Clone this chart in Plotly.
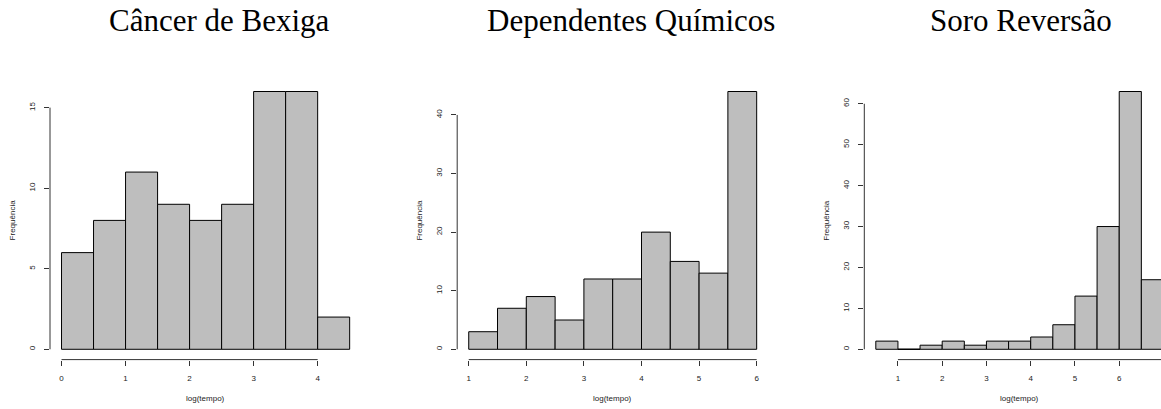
import plotly.graph_objects as go

# ---------------- data ----------------
titles = ["Câncer de Bexiga", "Dependentes Químicos", "Soro Reversão"]

bexiga_edges = [0.0, 0.5, 1.0, 1.5, 2.0, 2.5, 3.0, 3.5, 4.0, 4.5]
bexiga_counts = [6, 8, 11, 9, 8, 9, 16, 16, 2]
bexiga_xticks = [0, 1, 2, 3, 4]
bexiga_yticks = [0, 5, 10, 15]

quimicos_edges = [1.0, 1.5, 2.0, 2.5, 3.0, 3.5, 4.0, 4.5, 5.0, 5.5, 6.0]
quimicos_counts = [3, 7, 9, 5, 12, 12, 20, 15, 13, 44]
quimicos_xticks = [1, 2, 3, 4, 5, 6]
quimicos_yticks = [0, 10, 20, 30, 40]

soro_edges = [0.5, 1.0, 1.5, 2.0, 2.5, 3.0, 3.5, 4.0, 4.5, 5.0, 5.5, 6.0, 6.5, 7.0]
soro_counts = [2, 0, 1, 2, 1, 2, 2, 3, 6, 13, 30, 63, 17]
soro_xticks = [1, 2, 3, 4, 5, 6, 7]
soro_yticks = [0, 10, 20, 30, 40, 50, 60]

xlabel = "log(tempo)"
ylabel = "Frequência"

panels = [
    dict(edges=bexiga_edges, counts=bexiga_counts, xt=bexiga_xticks, yt=bexiga_yticks,
         dom=[50 / 1161, 361.2 / 1161], xcut=None, tx=219),
    dict(edges=quimicos_edges, counts=quimicos_counts, xt=quimicos_xticks, yt=quimicos_yticks,
         dom=[457.2 / 1161, 768.2 / 1161], xcut=None, tx=631),
    dict(edges=soro_edges, counts=soro_counts, xt=soro_xticks, yt=soro_yticks,
         dom=[864.3 / 1161, 1.0], xcut=6.944, tx=1021),
]

W, H = 1161, 409
ydom = [(H - 359.6) / H, (H - 81.2) / H]
tick_font = dict(family="Liberation Sans, Arial, sans-serif", size=8, color="#222")
lab_font = dict(family="Liberation Sans, Arial, sans-serif", size=8, color="#222")

fig = go.Figure()
shapes = []
annotations = []

for i, p in enumerate(panels):
    k = "" if i == 0 else str(i + 1)
    xa, ya = "x" + k, "y" + k
    edges, counts = p["edges"], p["counts"]
    centers = [(a + b) / 2 for a, b in zip(edges[:-1], edges[1:])]
    widths = [b - a for a, b in zip(edges[:-1], edges[1:])]
    fig.add_trace(go.Bar(
        x=centers, y=counts, width=widths, xaxis=xa, yaxis=ya,
        marker=dict(color="#BEBEBE", line=dict(color="black", width=1)),
        showlegend=False, hoverinfo="skip",
    ))
    # zero-height bins: R draws a flat segment
    for c, w, n in zip(centers, widths, counts):
        if n == 0:
            shapes.append(dict(type="line", xref=xa, yref=ya, x0=c - w / 2, x1=c + w / 2,
                               y0=0, y1=0, line=dict(color="black", width=1)))
    x0, x1 = edges[0], edges[-1]
    ext = 0.04 * (x1 - x0)
    xr = [x0 - ext, p["xcut"] if p["xcut"] else x1 + ext]
    ymax = max(counts)
    yr = [-0.04 * ymax, ymax * 1.04]
    fig.layout["xaxis" + k] = dict(
        domain=p["dom"], anchor=ya, range=xr, tickvals=p["xt"], ticks="outside",
        ticklen=5, tickwidth=1, tickcolor="#333", showline=False, showgrid=False,
        zeroline=False, tickfont=tick_font, ticklabelstandoff=6, fixedrange=True,
        automargin=False,
    )
    fig.layout["yaxis" + k] = dict(
        domain=ydom, anchor=xa, range=yr, tickvals=p["yt"], ticks="outside",
        ticklen=5, tickwidth=1, tickcolor="#333", showline=False, showgrid=False,
        zeroline=False, tickfont=tick_font, tickangle=-90, ticklabelstandoff=6,
        fixedrange=True, automargin=False,
    )
    # R-style axis lines spanning only first..last tick
    shapes.append(dict(type="line", xref=xa, yref=ya + " domain", x0=p["xt"][0], x1=p["xt"][-1],
                       y0=0, y1=0, line=dict(color="#333", width=1)))
    shapes.append(dict(type="line", xref=xa + " domain", yref=ya, x0=0, x1=0,
                       y0=p["yt"][0], y1=p["yt"][-1], line=dict(color="#333", width=1)))
    # axis titles
    annotations.append(dict(text=xlabel, xref=xa, yref="paper", x=(x0 + x1) / 2,
                            y=(H - 398) / H, yanchor="middle", xanchor="center",
                            showarrow=False, font=lab_font))
    annotations.append(dict(text=ylabel, xref=xa + " domain", yref=ya + " domain", x=0, y=0.5,
                            xshift=-38, textangle=-90, xanchor="center", yanchor="middle",
                            showarrow=False, font=lab_font))
    annotations.append(dict(text=titles[i], xref="paper", yref="paper", x=p["tx"] / W,
                            y=(H - 20) / H, xanchor="center", yanchor="middle",
                            showarrow=False,
                            font=dict(family="Liberation Serif, Times New Roman, serif",
                                      size=31, color="black")))

fig.update_layout(
    width=W, height=H, margin=dict(l=0, r=0, t=0, b=0, autoexpand=False),
    paper_bgcolor="white", plot_bgcolor="white", bargap=0,
    shapes=shapes, annotations=annotations,
)

fig.write_html(
    "out.html",
    config={"displayModeBar": False, "staticPlot": True},
    post_script="document.body.style.margin='0';document.body.style.overflow='hidden';",
)
